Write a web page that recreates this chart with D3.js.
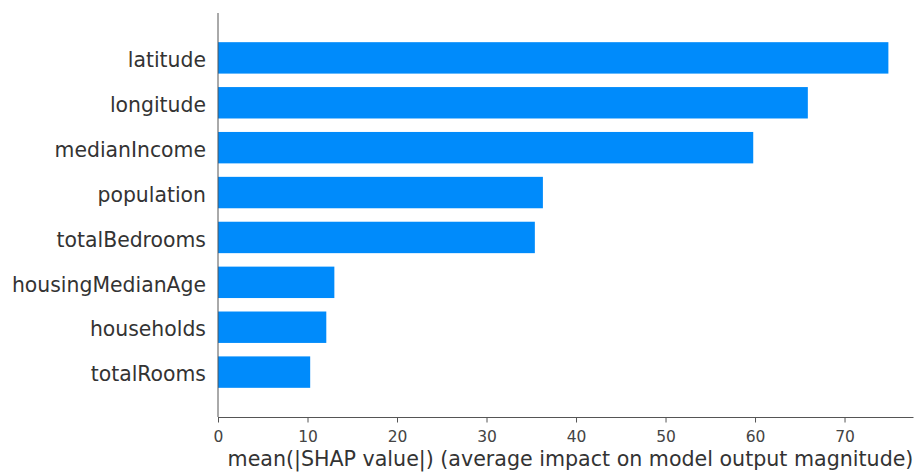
<!DOCTYPE html>
<html>
<head>
<meta charset="utf-8">
<script src="https://cdn.jsdelivr.net/npm/d3@7"></script>
<style>
  html, body { margin: 0; padding: 0; background: #fff; }
  svg { display: block; }
  text { font-family: "DejaVu Sans", sans-serif; }
</style>
</head>
<body>
<svg id="chart" width="915" height="472"></svg>
<script>
// Feature importance: mean absolute SHAP value per feature
const features = ["latitude", "longitude", "medianIncome", "population",
                  "totalBedrooms", "housingMedianAge", "households", "totalRooms"];
const meanAbsShap = [74.9, 65.9, 59.8, 36.3, 35.4, 13.0, 12.1, 10.3];
const xTicks = [0, 10, 20, 30, 40, 50, 60, 70];
const xLabel = "mean(|SHAP value|) (average impact on model output magnitude)";

const svg = d3.select("#chart");
const plotLeft = 218, plotRight = 913, plotTop = 13, plotBottom = 417;

const x = d3.scaleLinear().domain([0, 77.65]).range([plotLeft, plotRight]);
// rows: index 0 at top, one extra band of padding above and below
const y = d3.scaleLinear().domain([-1, features.length]).range([plotTop, plotBottom]);
const rowH = y(1) - y(0);
const barH = rowH * 0.7;

const textColor = "#333333";

// bars
svg.append("g").selectAll("rect")
  .data(features)
  .join("rect")
  .attr("x", x(0))
  .attr("y", (d, i) => y(i) - barH / 2)
  .attr("width", (d, i) => x(meanAbsShap[i]) - x(0))
  .attr("height", barH)
  .attr("fill", "#008bfb");

// feature labels
svg.append("g").selectAll("text")
  .data(features)
  .join("text")
  .attr("x", plotLeft - 12)
  .attr("y", (d, i) => y(i))
  .attr("dy", "0.45em")
  .attr("text-anchor", "end")
  .attr("font-size", 20.4)
  .attr("fill", textColor)
  .text(d => d);

// left spine
svg.append("line")
  .attr("x1", plotLeft).attr("x2", plotLeft)
  .attr("y1", plotTop).attr("y2", plotBottom)
  .attr("stroke", "#555").attr("stroke-width", 1);

// bottom axis
const xAxis = d3.axisBottom(x).tickValues(xTicks).tickSize(5.5).tickPadding(8).tickSizeOuter(0);
const gx = svg.append("g").attr("transform", `translate(0,${plotBottom})`).call(xAxis);
gx.select(".domain").attr("stroke", "#555");
gx.selectAll(".tick line").attr("stroke", "#555");
gx.selectAll(".tick text")
  .attr("font-size", 15.5)
  .attr("font-family", "DejaVu Sans, sans-serif")
  .attr("fill", "#444");

// axis title
svg.append("text")
  .attr("x", (plotLeft + plotRight) / 2 + 5)
  .attr("y", 466)
  .attr("text-anchor", "middle")
  .attr("font-size", 20.6)
  .attr("fill", textColor)
  .text(xLabel);
</script>
</body>
</html>
